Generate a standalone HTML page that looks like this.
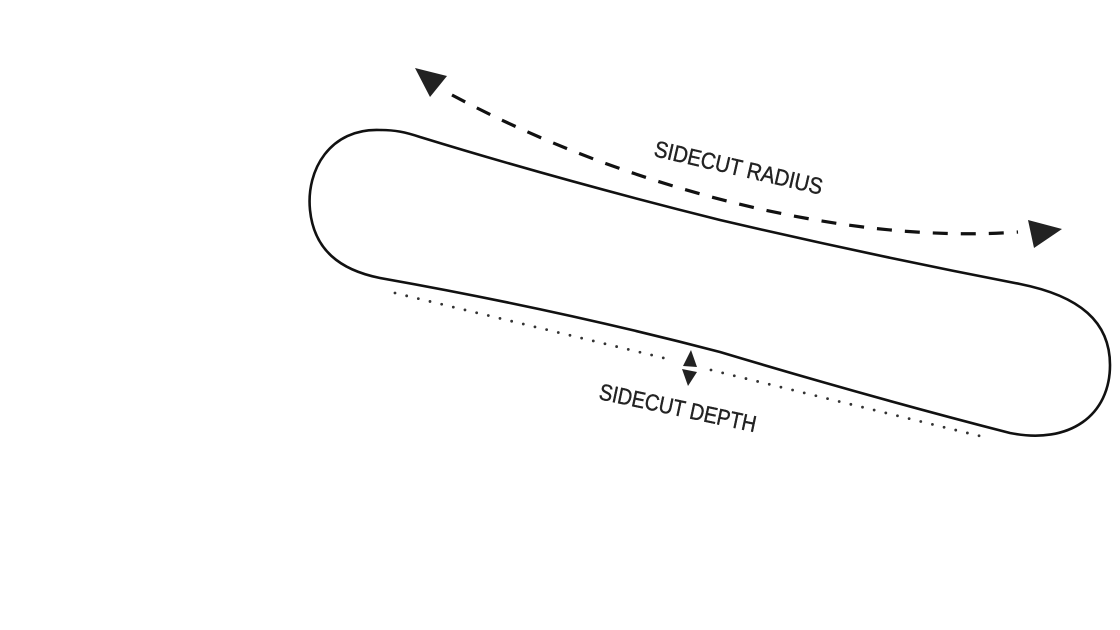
<!DOCTYPE html>
<html><head><meta charset="utf-8"><style>
html,body{margin:0;padding:0;background:#fff;}
svg{display:block;}
text{font-family:"Liberation Sans",sans-serif;fill:#222;stroke:#222;stroke-width:0.4;}
</style></head><body>
<svg width="1120" height="630" viewBox="0 0 1120 630" xmlns="http://www.w3.org/2000/svg">
<path d="M 380,130 C 330,128 306,170 310,210 C 314,250 340,270 380,278 Q 560,310 720,352 Q 870,397 1010,433 C 1070,445 1110,415 1110,365 C 1110,322 1080,296 1020,284 Q 870,255 720,220 Q 560,180 420,137 C 405,132 395,130 380,130 Z" fill="none" stroke="#111" stroke-width="2.6"/>
<path d="M 452,95 C 620,185 840,245 1018,232" fill="none" stroke="#111" stroke-width="3.2" stroke-dasharray="15,13"/>
<polygon points="415,68 447,76 430,97" fill="#222"/>
<polygon points="1028,220 1062,229 1034,248" fill="#222"/>
<line x1="395" y1="293" x2="668" y2="359" stroke="#333" stroke-width="2.8" stroke-linecap="round" stroke-dasharray="0,12"/>
<line x1="711" y1="370" x2="988" y2="438" stroke="#333" stroke-width="2.8" stroke-linecap="round" stroke-dasharray="0,12"/>
<polygon points="691,350 683,366 697,367" fill="#222"/>
<polygon points="682,369 697,372 688,386" fill="#222"/>
<text transform="translate(653,156) rotate(13)" font-size="23" textLength="172" lengthAdjust="spacingAndGlyphs">SIDECUT RADIUS</text>
<text transform="translate(598,399) rotate(12)" font-size="23" textLength="160" lengthAdjust="spacingAndGlyphs">SIDECUT DEPTH</text>
</svg>
</body></html>
